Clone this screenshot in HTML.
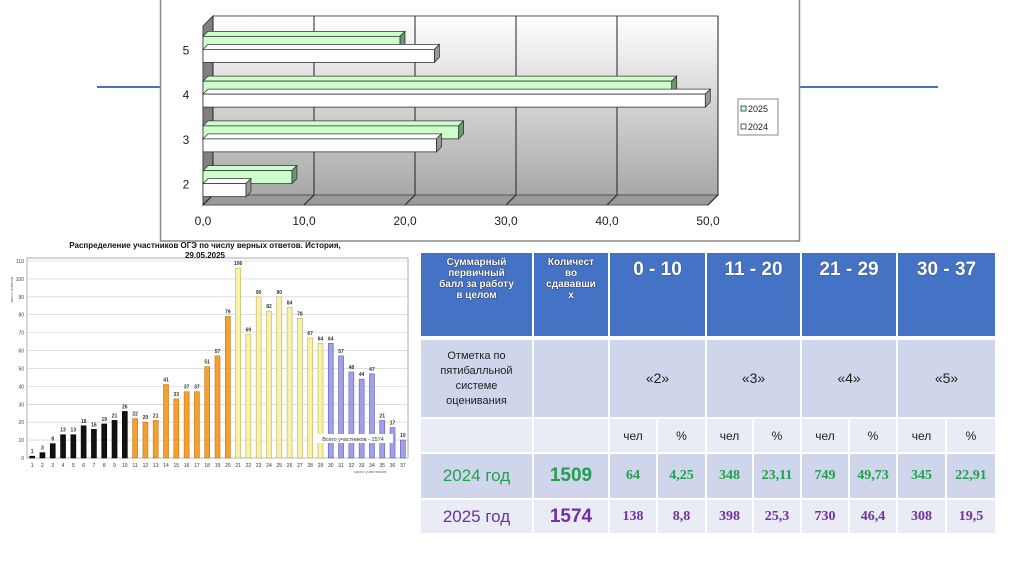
<!DOCTYPE html>
<html><head><meta charset="utf-8">
<style>
body{margin:0;width:1024px;height:574px;background:#fff;position:relative;overflow:hidden;font-family:"Liberation Sans",sans-serif}
svg{position:absolute;left:0;top:0}
.tb{position:absolute;box-sizing:border-box;display:flex;align-items:center;justify-content:center;text-align:center}
.h{background:#4472c4;color:#fff;font-weight:bold}
.hs{font-size:10px;line-height:11px;align-items:flex-start;padding-top:4px;text-shadow:0 0 1px #223,0 0 1px #223}
.hb{font-size:19px;align-items:flex-start;padding-top:6px;text-shadow:0 0 1px #223}
.r2{background:#cfd5ea;color:#222;font-size:11px;line-height:15px}
.r3{background:#e9ebf5;color:#222;font-size:12px}
.r4{background:#cfd5ea;color:#22a050}
.r5{background:#e9ebf5;color:#7030a0}
.n{font-family:"Liberation Serif",serif;font-weight:bold;font-size:14px}
.y{font-size:17px}
.t{font-weight:bold;font-size:19px}
</style></head><body>
<svg width="1024" height="574" id="svg">
<defs>
<linearGradient id="wall" x1="0" y1="0" x2="0" y2="1"><stop offset="0" stop-color="#ffffff"/><stop offset="1" stop-color="#a8a8a8"/></linearGradient>
</defs>
<line x1="97" y1="87" x2="160" y2="87" stroke="#4472c4" stroke-width="2"/>
<line x1="800" y1="87" x2="938" y2="87" stroke="#4472c4" stroke-width="2"/>
<rect x="160.5" y="-2" width="639" height="243" fill="#fff" stroke="#888" stroke-width="1.5"/>
<g id="topchart"></g>
<g id="hist"></g>
</svg>

<div class="tb h hs" style="left:421px;top:253px;width:111px;height:83px">Суммарный<br>первичный<br>балл за работу<br>в целом</div>
<div class="tb h hs" style="left:534px;top:253px;width:74px;height:83px">Количест<br>во<br>сдававши<br>х</div>
<div class="tb h hb" style="left:610px;top:253px;width:95px;height:83px">0 - 10</div>
<div class="tb h hb" style="left:707px;top:253px;width:93px;height:83px">11 - 20</div>
<div class="tb h hb" style="left:802px;top:253px;width:94px;height:83px">21 - 29</div>
<div class="tb h hb" style="left:898px;top:253px;width:97px;height:83px">30 - 37</div>

<div class="tb r2" style="left:421px;top:340px;width:111px;height:77px">Отметка по<br>пятибалльной<br>системе<br>оценивания</div>
<div class="tb r2" style="left:534px;top:340px;width:74px;height:77px"></div>
<div class="tb r2" style="left:610px;top:340px;width:95px;height:77px;font-size:14px">«2»</div>
<div class="tb r2" style="left:707px;top:340px;width:93px;height:77px;font-size:14px">«3»</div>
<div class="tb r2" style="left:802px;top:340px;width:94px;height:77px;font-size:14px">«4»</div>
<div class="tb r2" style="left:898px;top:340px;width:97px;height:77px;font-size:14px">«5»</div>

<div id="rows"></div>

<script>
// ---- top bar chart data ----
const gradeCats = ["5","4","3","2"];
const pct2025 = [19.5, 46.4, 25.3, 8.8];
const pct2024 = [22.91, 49.73, 23.11, 4.25];
const xTicks = [0,10,20,30,40,50];
// ---- histogram data ----
const scores = [1,2,3,4,5,6,7,8,9,10,11,12,13,14,15,16,17,18,19,20,21,22,23,24,25,26,27,28,29,30,31,32,33,34,35,36,37];
const counts = [1,3,8,13,13,18,16,19,21,26,22,20,21,41,33,37,37,51,57,79,106,69,90,82,90,84,78,67,64,64,57,48,44,47,21,17,10];
const yTicks = [0,10,20,30,40,50,60,70,80,90,100,110];

const NS="http://www.w3.org/2000/svg";
function mk(tag,attrs,parent,txt){const e=document.createElementNS(NS,tag);for(const k in attrs)e.setAttribute(k,attrs[k]);if(txt!==undefined)e.textContent=txt;parent.appendChild(e);return e;}

// ===== top chart =====
const topG=document.getElementById('topchart');
const x0=203, x1=708, D=10;
const xs=v=>x0+(v/50)*(x1-x0);
const yTop=16, yFloor=205;
let w=mk('polygon',{points:`${x0+D},${yTop} ${x1+D},${yTop} ${x1+D},${yFloor-D} ${x0+D},${yFloor-D}`,fill:'url(#wall)',stroke:'#555','stroke-width':1},topG);


let lw=mk('polygon',{points:`${x0},${yTop+D} ${x0+D},${yTop} ${x0+D},${yFloor-D} ${x0},${yFloor}`,fill:'#808080',stroke:'#444','stroke-width':1},topG);


let fl=mk('polygon',{points:`${x0},${yFloor} ${x0+D},${yFloor-D} ${x1+D},${yFloor-D} ${x1},${yFloor}`,fill:'#9a9a9a',stroke:'#555','stroke-width':1},topG);


xTicks.forEach(t=>{
  const X=xs(t);
  const g=mk('line',{x1:X+D,y1:yTop,x2:X+D,y2:yFloor-D,stroke:'#222','stroke-width':1},topG);
  
  
  mk('line',{x1:X,y1:yFloor,x2:X+D,y2:yFloor-D,stroke:'#222','stroke-width':1},topG);
  const l=mk('text',{x:X,y:225,'text-anchor':'middle','font-size':12,fill:'#222'},topG,t.toFixed(1).replace('.',','));
  
  
});
const band=(yFloor-yTop-D)/gradeCats.length;
function bar3d(v,y,h,fill,side,name){
  const X=xs(v),d=5;
  const g=mk('g',{},topG);
  
  
  mk('polygon',{points:`${x0},${y} ${x0+d},${y-d} ${X+d},${y-d} ${X},${y}`,fill:fill,stroke:'#333','stroke-width':0.8},g);
  mk('polygon',{points:`${X},${y} ${X+d},${y-d} ${X+d},${y+h-d} ${X},${y+h}`,fill:side,stroke:'#333','stroke-width':0.8},g);
  mk('rect',{x:x0,y:y,width:X-x0,height:h,fill:fill,stroke:'#333','stroke-width':0.8},g);
}
gradeCats.forEach((c,i)=>{
  const cy=yTop+D+band*i+band/2+2;
  bar3d(pct2025[i],cy-14,13,'#ccffcc','#6a9a6a','bar-2025-grade-'+c);
  bar3d(pct2024[i],cy-1,13,'#ffffff','#999','bar-2024-grade-'+c);
  const l=mk('text',{x:186,y:cy+4,'text-anchor':'middle','font-size':12,fill:'#222'},topG,c);
  
  
});
const leg=mk('g',{},topG);


mk('rect',{x:738,y:99,width:40,height:36,fill:'#fff',stroke:'#888'},leg);
mk('rect',{x:741,y:106,width:5,height:5,fill:'#ccffcc',stroke:'#333','stroke-width':0.8},leg);
mk('text',{x:748,y:112,'font-size':9,fill:'#222'},leg,'2025');
mk('rect',{x:741,y:124,width:5,height:5,fill:'#fff',stroke:'#333','stroke-width':0.8},leg);
mk('text',{x:748,y:130,'font-size':9,fill:'#222'},leg,'2024');

// ===== histogram =====
const hg=document.getElementById('hist');
const hx0=27,hx1=408,hy0=458,hy1=261;
const hy=v=>hy0-(v/110)*(hy0-hy1);
const step=(hx1-hx0)/37;
const hxc=i=>hx0+step*(i+0.5);
mk('rect',{x:hx0,y:hy1-3,width:hx1-hx0,height:hy0-hy1+3,fill:'#fff',stroke:'#999','stroke-width':0.8},hg);
let tt=mk('text',{x:205,y:248,'text-anchor':'middle','font-size':8,'font-weight':'bold',fill:'#111'},hg,'Распределение участников ОГЭ по числу верных ответов. История,');


mk('text',{x:205,y:258,'text-anchor':'middle','font-size':8,'font-weight':'bold',fill:'#111'},hg,'29.05.2025');
yTicks.forEach(t=>{
  const Y=hy(t);
  const g=mk('line',{x1:hx0,y1:Y,x2:hx1,y2:Y,stroke:'#ccc','stroke-width':0.6},hg);
  
  
  const l=mk('text',{x:hx0-3,y:Y+2,'text-anchor':'end','font-size':5,fill:'#444'},hg,t);
  
  
});
mk('text',{x:13,y:290,'font-size':4,fill:'#666',transform:'rotate(-90 13 290)','text-anchor':'middle'},hg,'число ответов');
scores.forEach((s,i)=>{
  const v=counts[i];
  let fill,stroke;
  if(s<=10){fill='#111';stroke='#000';}
  else if(s<=20){fill='#f2a030';stroke='#c87010';}
  else if(s<=29){fill='#f7f2a8';stroke='#b8b060';}
  else {fill='#a0a0e8';stroke='#6060b0';}
  const r=mk('rect',{x:hxc(i)-2.5,y:hy(v),width:5,height:hy0-hy(v),fill:fill,stroke:stroke,'stroke-width':0.6},hg);
  
  
  const l=mk('text',{x:hxc(i),y:hy(v)-3,'text-anchor':'middle','font-size':5,'font-weight':'bold',fill:'#333'},hg,v);
  
  
  const xl=mk('text',{x:hxc(i),y:hy0+9,'text-anchor':'middle','font-size':5,fill:'#333'},hg,s);
  
  
});
const tbx=mk('g',{},hg);


mk('rect',{x:313,y:434,width:80,height:9,fill:'#fff'},tbx);
mk('text',{x:353,y:441,'text-anchor':'middle','font-size':5.5,fill:'#333'},tbx,'Всего участников - 1574');
mk('text',{x:370,y:473,'text-anchor':'middle','font-size':4,fill:'#666'},hg,'число участников');

// ===== table rows =====
const rowsEl=document.getElementById('rows');
const cols=[[421,111],[534,74],[610,46],[658,47],[707,45],[754,46],[802,46],[850,46],[898,47],[947,48]];
function addRow(cls,yy,h,cells,names){
  cells.forEach((c,i)=>{
    const d=document.createElement('div');
    d.className='tb '+cls[i];
    d.style.left=cols[i][0]+'px';d.style.top=yy+'px';d.style.width=cols[i][1]+'px';d.style.height=h+'px';
    d.textContent=c;
    
    
    rowsEl.appendChild(d);
  });
}
const sub=['','','чел','%','чел','%','чел','%','чел','%'];
addRow(Array(10).fill('r3'),419,33,sub,sub.map((s,i)=>'unit-cell-'+i));
addRow(['r4 y','r4 t'].concat(Array(8).fill('r4 n')),454,44,['2024 год','1509','64','4,25','348','23,11','749','49,73','345','22,91'],Array(10).fill(0).map((_,i)=>'row-2024-cell-'+i));
addRow(['r5 y','r5 t'].concat(Array(8).fill('r5 n')),500,33,['2025 год','1574','138','8,8','398','25,3','730','46,4','308','19,5'],Array(10).fill(0).map((_,i)=>'row-2025-cell-'+i));
</script>
</body></html>
